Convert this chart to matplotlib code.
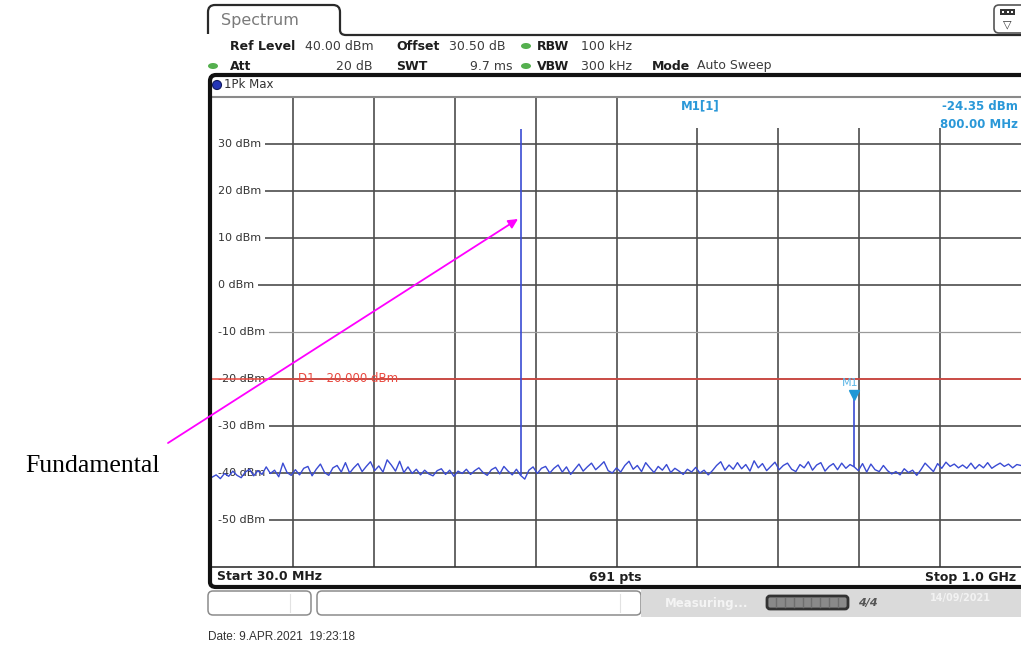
import numpy as np
import matplotlib
matplotlib.use("Agg")
import matplotlib.pyplot as plt
import matplotlib.transforms as mtransforms
from matplotlib.patches import FancyBboxPatch, Rectangle, Ellipse, Circle, PathPatch
from matplotlib.path import Path

plt.rcParams['font.family'] = 'DejaVu Sans'

# sweep settings
start_mhz = 30.0
stop_mhz = 1000.0
ref_level = 40.0
bottom_level = -60.0
display_line = -20.0

# peak-hold noise floor, one reading every 5 MHz from 30 MHz to 1 GHz
noise_dbm = [
    -40.9, -40.4, -41.2, -40.1, -40.7, -39.6, -40.5, -41.0, -39.8, -39.2,
    -40.6, -39.5, -40.3, -38.7, -40.1, -39.4, -40.8, -37.9, -39.9, -40.5,
    -39.3, -40.4, -39.0, -38.6, -40.6, -39.2, -38.1, -39.9, -40.5, -38.9,
    -38.4, -39.8, -37.8, -40.0, -38.9, -38.0, -39.7, -38.6, -37.6, -39.5,
    -38.5, -39.8, -37.2, -38.3, -39.6, -37.5, -39.9, -38.7, -40.1, -39.2,
    -40.4, -39.4, -40.2, -40.6, -39.5, -39.1, -40.3, -39.4, -40.7, -39.6,
    -40.1, -39.2, -40.3, -39.5, -38.9, -39.9, -40.5, -39.3, -38.8, -40.2,
    -38.6, -39.6, -40.4, -39.2, -40.5, -41.3, -39.4, -38.7, -40.1, -39.0,
    -38.6, -40.0, -39.0, -38.3, -39.8, -38.7, -40.3, -39.2, -38.1, -39.6,
    -38.7, -37.9, -39.3, -38.5, -37.6, -39.5, -40.0, -38.9, -39.8, -38.4,
    -37.5, -39.2, -38.4, -39.7, -37.8, -38.9, -39.9, -38.6, -39.4, -38.2,
    -39.9, -39.0, -39.6, -40.3, -39.2, -39.8, -38.8, -40.0, -39.4, -40.4,
    -39.5, -38.4, -37.6, -39.4, -38.3, -39.2, -37.8, -39.1, -38.2, -39.6,
    -37.4, -38.9, -38.0, -39.5, -38.6, -37.7, -39.3, -38.4, -37.9, -39.2,
    -39.7, -38.2, -38.9, -37.6, -39.4, -38.3, -37.8, -39.6, -38.6, -38.0,
    -39.3, -37.9, -39.0, -38.2, -38.7, -39.5, -38.0, -39.8, -38.1, -39.3,
    -39.7, -38.4, -39.5, -40.2, -39.7, -40.4, -39.1, -39.9, -39.4, -40.5,
    -39.3, -37.9, -38.8, -39.7, -38.0, -39.0, -37.7, -38.6, -38.1, -38.9,
    -38.3, -39.0, -37.9, -39.1, -38.2, -38.9, -37.8, -39.0, -38.4, -37.9,
    -38.6, -38.1, -38.9, -38.2, -38.4,
]

# discrete tones: fundamental and the 2nd harmonic (marker M1)
peak_mhz = [400.0, 800.0]
peak_dbm = [33.2, -24.35]
m1_mhz = 800.0
m1_dbm = -24.35

level_ticks = [30, 20, 10, 0, -10, -20, -30, -40, -50]

W, H = 1021, 649
fig = plt.figure(figsize=(W / 100, H / 100), dpi=100)
fig.patch.set_facecolor('white')

# ---- trace window ----
px_l, px_r, px_t, px_b = 212, 1021, 97, 567
ax = fig.add_axes([px_l / W, (H - px_b) / H, (px_r - px_l) / W, (px_b - px_t) / H])
ax.set_xlim(start_mhz, stop_mhz)
ax.set_ylim(bottom_level, ref_level)
ax.set_xticks([])
ax.set_yticks([])
for side in ['right', 'left']:
    ax.spines[side].set_visible(False)
ax.spines['top'].set_color('#8a8a8a')
ax.spines['top'].set_linewidth(1.5)
ax.spines['bottom'].set_color('#333333')
ax.spines['bottom'].set_linewidth(1.2)

grid_col = '#4d4d4d'
for f in np.linspace(start_mhz, stop_mhz, 11)[1:-1]:
    ax.axvline(f, color=grid_col, lw=1.2, zorder=1)
for lvl in level_ticks:
    ax.axhline(lvl, color=grid_col if lvl != -10 else '#9a9a9a', lw=1.2 if lvl != -10 else 0.9, zorder=1)

# area reserved for the marker readout, and a clear strip along the left edge
ax.add_patch(Rectangle((0.51, 0.933), 0.49, 0.067, transform=ax.transAxes,
                       facecolor='white', edgecolor='none', zorder=2))
ax.add_patch(Rectangle((0, 0), 0.007, 1, transform=ax.transAxes,
                       facecolor='white', edgecolor='none', zorder=2))

ylab_tr = mtransforms.blended_transform_factory(ax.transAxes, ax.transData)
for lvl in level_ticks:
    ax.text(0.007, lvl, f"{lvl} dBm", transform=ylab_tr, va='center', ha='left',
            fontsize=8, color='#333333', zorder=3,
            bbox=dict(boxstyle='square,pad=0.35', facecolor='white', edgecolor='none'))

# display line D1
red = '#e8483f'
ax.axhline(display_line, color=red, lw=1.1, zorder=4)
ax.text(0.106, display_line, f"D1  {display_line:.3f} dBm", transform=ylab_tr,
        va='center', ha='left', fontsize=8.5, color=red, zorder=4)

# trace
trace_col = '#3a4bd3'
freq_mhz = np.linspace(start_mhz, stop_mhz, len(noise_dbm))
noise = np.array(noise_dbm)
ax.plot(freq_mhz, noise, color=trace_col, lw=1.0, zorder=5)
for f, p in zip(peak_mhz, peak_dbm):
    base = noise[np.abs(freq_mhz - f).argmin()]
    ax.vlines(f, base, p, color=trace_col, lw=1.2, zorder=5)

# marker M1
mk_col = '#1f98d6'
up4 = mtransforms.offset_copy(ax.transData, fig=fig, y=4, units='dots')
ax.plot([m1_mhz], [m1_dbm], marker='v', ms=7, color=mk_col, transform=up4, zorder=6)
ax.annotate('M1', (m1_mhz, m1_dbm), xytext=(-3, 12), textcoords='offset points',
            ha='center', va='center', fontsize=8, color='#5db7e6', zorder=6)

# ---- instrument frame drawn in pixel space ----
ov = fig.add_axes([0, 0, 1, 1], zorder=10)
ov.set_xlim(0, W)
ov.set_ylim(H, 0)
ov.axis('off')
ov.patch.set_alpha(0)

dark = '#2a2a2a'
tab = Path([(208, 34), (208, 12), (208, 5), (215, 5), (333, 5), (340, 5), (340, 12),
            (340, 30), (340, 35), (346, 35), (1021, 35)],
           [Path.MOVETO, Path.LINETO, Path.CURVE3, Path.CURVE3, Path.LINETO, Path.CURVE3,
            Path.CURVE3, Path.LINETO, Path.CURVE3, Path.CURVE3, Path.LINETO])
ov.add_patch(PathPatch(tab, facecolor='none', edgecolor=dark, lw=1.6))
ov.text(221, 21, 'Spectrum', fontsize=11.5, color='#7a7a7a', va='center')

# top-right tool icon
ov.add_patch(FancyBboxPatch((994, 5), 34, 28, boxstyle='round,pad=0,rounding_size=5',
                            facecolor='white', edgecolor='#555555', lw=1.2))
ov.add_patch(Rectangle((1000, 9), 15, 6, facecolor='#333333', edgecolor='none'))
for dx in (1003, 1007.5, 1012):
    ov.add_patch(Rectangle((dx - 1, 11), 2, 2, facecolor='white', edgecolor='none'))
ov.text(1007.5, 24, '\u25bd', fontsize=8, ha='center', va='center', color='#333333')

# header parameters
hy1, hy2 = 46, 66
bold_kw = dict(fontsize=9, fontweight='bold', color='#1e1e1e', va='center')
val_kw = dict(fontsize=9, color='#3c3c3c', va='center')
ov.text(230, hy1, 'Ref Level', **bold_kw)
ov.text(305, hy1, f"{ref_level:.2f} dBm", **val_kw)
ov.text(396, hy1, 'Offset', **bold_kw)
ov.text(449, hy1, '30.50 dB', **val_kw)
ov.text(537, hy1, 'RBW', **bold_kw)
ov.text(581, hy1, '100 kHz', **val_kw)
ov.text(230, hy2, 'Att', **bold_kw)
ov.text(372, hy2, '20 dB', ha='right', **val_kw)
ov.text(396, hy2, 'SWT', **bold_kw)
ov.text(512, hy2, '9.7 ms', ha='right', **val_kw)
ov.text(537, hy2, 'VBW', **bold_kw)
ov.text(581, hy2, '300 kHz', **val_kw)
ov.text(652, hy2, 'Mode', **bold_kw)
ov.text(697, hy2, 'Auto Sweep', **val_kw)
for gx, gy in [(526, hy1), (526, hy2), (213, hy2)]:
    ov.add_patch(Ellipse((gx, gy), 10, 6, facecolor='#55b04f', edgecolor='none'))

# trace window frame
frame = Path([(1021, 75), (216, 75), (210, 75), (210, 81), (210, 582), (210, 587),
              (216, 587), (1021, 587)],
             [Path.MOVETO, Path.LINETO, Path.CURVE3, Path.CURVE3, Path.LINETO, Path.CURVE3,
              Path.CURVE3, Path.LINETO])
ov.add_patch(PathPatch(frame, facecolor='none', edgecolor='#111111', lw=3))
ov.add_patch(Circle((217, 85), 4.5, facecolor='#2536b8', edgecolor='#101a60', lw=0.8))
ov.text(224, 85, '1Pk Max', fontsize=8.5, color='#333333', va='center')

# marker readout
mk_txt = '#2a98d8'
ov.text(681, 106, 'M1[1]', fontsize=8.5, fontweight='bold', color=mk_txt, va='center')
ov.text(1018, 106, f"{m1_dbm:.2f} dBm", fontsize=8.5, fontweight='bold', color=mk_txt,
        va='center', ha='right')
ov.text(1018, 125, f"{m1_mhz:.2f} MHz", fontsize=8.5, fontweight='bold', color=mk_txt,
        va='center', ha='right')

# footer of trace window
fy = 577
ov.text(217, fy, f"Start {start_mhz:.1f} MHz", fontsize=9, fontweight='bold', color='#1e1e1e', va='center')
ov.text(615, fy, '691 pts', fontsize=9, fontweight='bold', color='#1e1e1e', va='center', ha='center')
ov.text(1016, fy, f"Stop {stop_mhz / 1000:.1f} GHz", fontsize=9, fontweight='bold', color='#1e1e1e',
        va='center', ha='right')

# soft keys and status bar
for x0, x1, div in [(208, 311, 290), (317, 641, 620)]:
    ov.add_patch(FancyBboxPatch((x0, 591), x1 - x0, 24, boxstyle='round,pad=0,rounding_size=5',
                                facecolor='white', edgecolor='#8c8c8c', lw=1.1))
    ov.plot([div, div], [594, 612], color='#e2e2e2', lw=0.8)
ov.add_patch(Rectangle((641, 589), 380, 28, facecolor='#dadada', edgecolor='none'))
ov.text(665, 603, 'Measuring...', fontsize=8.5, fontweight='bold', color='#f4f4f4', va='center')
ov.add_patch(FancyBboxPatch((767, 596), 81, 13, boxstyle='round,pad=0,rounding_size=3',
                            facecolor='#8a8a8a', edgecolor='#333333', lw=2))
for sx in np.linspace(776, 838, 8):
    ov.plot([sx, sx], [598, 607], color='#6f6f6f', lw=1)
ov.text(858, 603, '4/4', fontsize=8, fontweight='bold', fontstyle='italic', color='#555555', va='center')
ov.text(930, 598, '14/09/2021', fontsize=7, fontweight='bold', color='#f2f2f2', va='center')

ov.text(208, 637, 'Date: 9.APR.2021  19:23:18', fontsize=8.5, family='Liberation Sans',
        color='#333333', va='center')

# annotation for the fundamental
ov.annotate('', xy=(518, 219), xytext=(168, 443),
            arrowprops=dict(arrowstyle='-|>', color='#ff00ff', lw=1.3, mutation_scale=14,
                            shrinkA=0, shrinkB=0))
ov.text(25, 466, 'Fundamental', fontsize=18.5, family='Liberation Serif', color='black', va='center')

fig.savefig('out.png', dpi=100, facecolor='white')
